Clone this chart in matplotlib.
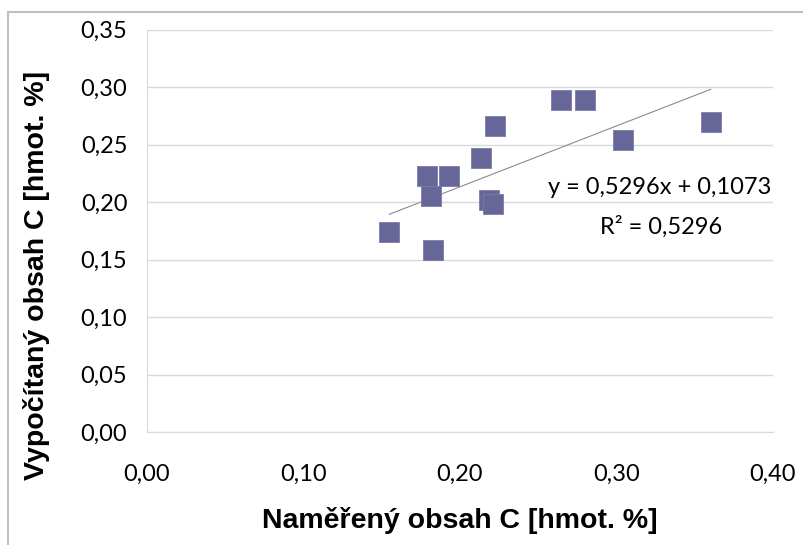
import numpy as np
import matplotlib
matplotlib.use("Agg")
import matplotlib.pyplot as plt
import matplotlib.patches as patches

# measured vs calculated carbon content [wt. %]
measured = [0.155, 0.179, 0.193, 0.1815, 0.183, 0.2135, 0.219, 0.221, 0.2225,
            0.2645, 0.280, 0.3042, 0.3604]
calculated = [0.174, 0.2227, 0.2227, 0.2053, 0.1583, 0.2384, 0.2016, 0.1984, 0.2663,
              0.2889, 0.2889, 0.2540, 0.2698]

# trendline from the chart
slope = 0.5296
intercept = 0.1073
r2 = 0.5296

xticks = [0.0, 0.1, 0.2, 0.3, 0.4]
yticks = [0.0, 0.05, 0.10, 0.15, 0.20, 0.25, 0.30, 0.35]

tick_font = "Lato"
label_font = ["Liberation Sans", "DejaVu Sans"]

fig = plt.figure(figsize=(8.04, 5.45), dpi=100)
ax = fig.add_axes([146.7 / 804, 1 - 432 / 545, 626 / 804, 402.3 / 545])

# outer chart border (Excel style)
fig.patches.append(patches.Rectangle((8 / 804, -0.1), 1.2, 1 - 12 / 545 + 0.1,
                                     transform=fig.transFigure, fill=False,
                                     ec="#bfbfbf", lw=1.5, clip_on=False))

ax.plot(measured, calculated, ls="none", marker="s", ms=14.5,
        mfc="#666699", mec="#7a7aa8", mew=0.6, zorder=3)

xt = np.array([min(measured), max(measured)])
ax.plot(xt, slope * xt + intercept, color="#8c8c8c", lw=0.8, zorder=2)

ax.text(0.3277, 0.2067, "y = 0,5296x + 0,1073", fontfamily=tick_font,
        fontsize=17, ha="center", va="baseline")
ax.text(0.3285, 0.172, "R² = " + f"{r2:.4f}".replace(".", ","), fontfamily=tick_font,
        fontsize=17, ha="center", va="baseline")

ax.set_xlim(0, 0.4)
ax.set_ylim(0, 0.35)
ax.set_xticks(xticks)
ax.set_yticks(yticks)
ax.set_xticklabels([f"{v:.2f}".replace(".", ",") for v in xticks],
                   fontfamily=tick_font, fontsize=17)
ax.set_yticklabels([f"{v:.2f}".replace(".", ",") for v in yticks],
                   fontfamily=tick_font, fontsize=17)
ax.tick_params(length=0)
ax.tick_params(axis="x", pad=23)
ax.tick_params(axis="y", pad=14)

ax.grid(axis="y", color="#d9d9d9", lw=1)
ax.set_axisbelow(True)
for side in ["top", "right"]:
    ax.spines[side].set_visible(False)
ax.spines["left"].set_color("#d9d9d9")
ax.spines["bottom"].set_color("#d9d9d9")

ax.set_xlabel("Naměřený obsah C [hmot. %]", fontfamily=label_font,
              fontweight="bold", fontsize=20.5, labelpad=16)
ax.set_ylabel("Vypočítaný obsah C [hmot. %]", fontfamily=label_font,
              fontweight="bold", fontsize=20.5)
ax.yaxis.set_label_coords(-0.1545, 0.39)

fig.savefig("out.png", dpi=100)
